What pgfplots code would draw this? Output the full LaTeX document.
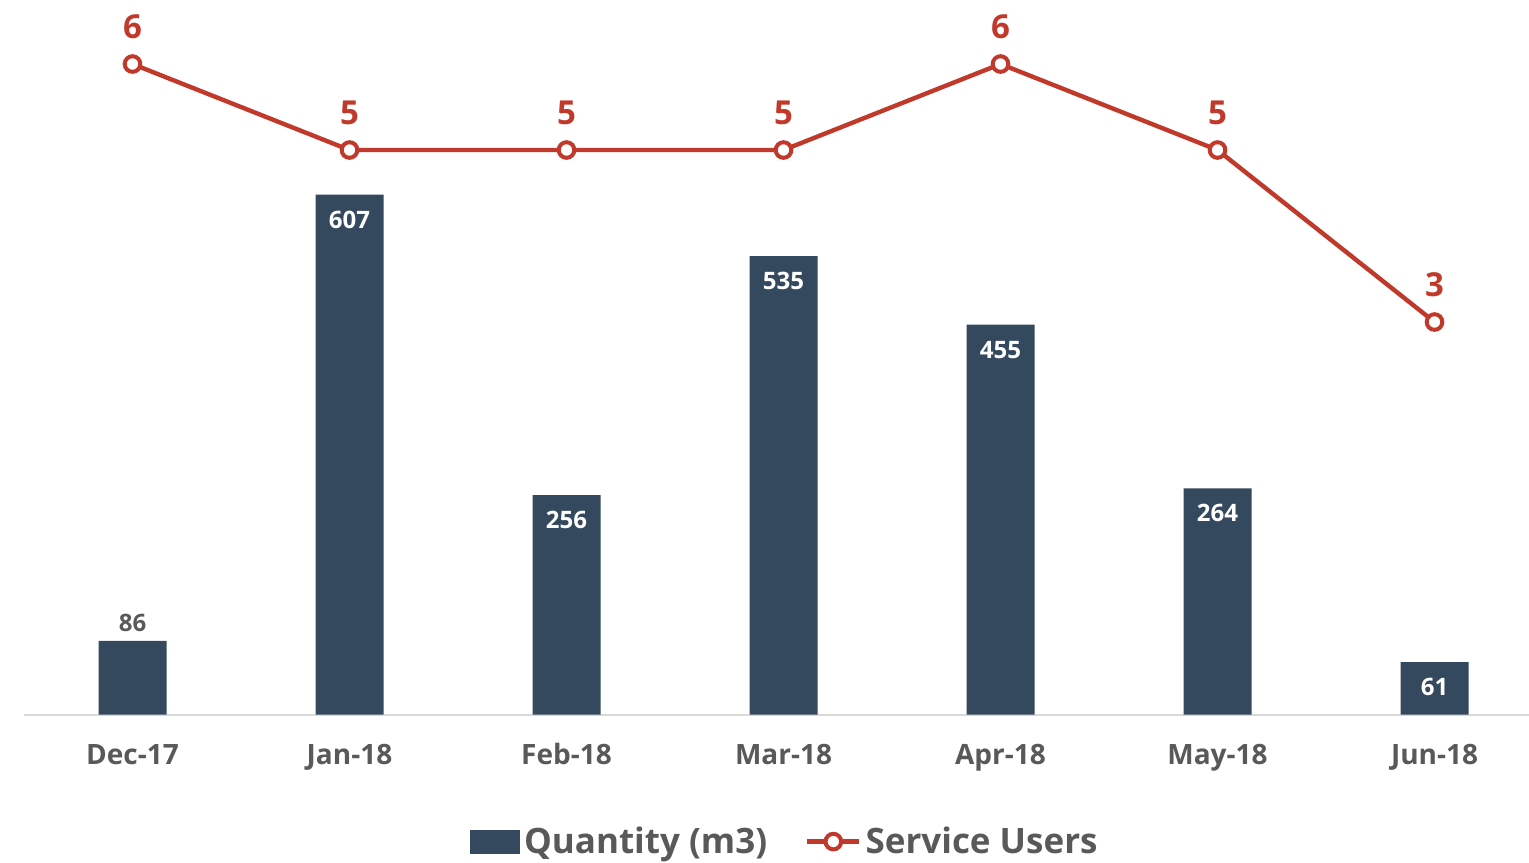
\documentclass[border=0pt]{standalone}
\usepackage{fontspec}
\setmainfont{Open Sans}
\usepackage{pgfplots}
\pgfplotsset{compat=1.18}
\definecolor{barc}{HTML}{34495E}
\definecolor{linec}{HTML}{C0392B}
\definecolor{txt}{HTML}{595959}
\definecolor{axc}{HTML}{D9D9D9}
\pgfplotsset{/pgf/number format/assume math mode=true,
  lineleg/.style={legend image code/.code={\draw[mark repeat=2,mark phase=2,##1] plot coordinates {(0pt,0pt) (13pt,0pt) (26pt,0pt)};}},
  barleg/.style={legend image code/.code={\fill[barc] (0pt,-5.75pt) rectangle (24.5pt,5.75pt);}}}
\begin{document}
\begin{tikzpicture}
\useasboundingbox (-12pt,-74pt) rectangle (752.5pt,357.25pt);
\begin{axis}[
  scale only axis, width=753pt, height=347.25pt,
  xmin=-0.5, xmax=6.44, ymin=0, ymax=810.7,
  clip=false,
  hide y axis,
  axis x line*=bottom,
  x axis line style={axc, line width=1pt, -},
  xtick={0,1,2,3,4,5,6},
  xticklabels={Dec-17,Jan-18,Feb-18,Mar-18,Apr-18,May-18,Jun-18},
  xtick style={draw=none},
  xticklabel style={anchor=base, yshift=-25pt, text=txt, font=\bfseries\fontsize{14}{16}\selectfont},
]
\addplot[ybar, bar width=34pt, fill=barc, draw=none] coordinates {(0,86) (1,607) (2,256) (3,535) (4,455) (5,264) (6,61)};
\addplot[draw=none, mark=none, nodes near coords, point meta=y,
  nodes near coords style={anchor=center, yshift=-12.5pt, text=white, font=\bfseries\fontsize{12}{14}\selectfont}]
  coordinates {(1,607) (2,256) (3,535) (4,455) (5,264) (6,61)};
\addplot[draw=none, mark=none, nodes near coords, point meta=y,
  nodes near coords style={anchor=center, yshift=9pt, text=txt, font=\bfseries\fontsize{12}{14}\selectfont}]
  coordinates {(0,86)};
\end{axis}
\begin{axis}[
  scale only axis, width=753pt, height=347.25pt,
  xmin=-0.5, xmax=6.44, ymin=-1.564, ymax=6.512,
  clip=false,
  axis lines=none,
  legend style={at={(rel axis cs:0.5059,-0.1830)}, anchor=center, legend columns=2, draw=none, fill=none,
    font=\bfseries\fontsize{17.5}{20}\selectfont, text=txt,
    nodes={inner sep=2pt},
    /tikz/every even column/.append style={column sep=17pt}},
]
\addlegendimage{barleg}
\addlegendentry{Quantity (m3)}
\addplot[linec, line width=2.2pt, mark=*, mark size=3.9pt,
  mark options={fill=white, draw=linec, line width=2pt},
  lineleg,
  nodes near coords, point meta=y,
  nodes near coords style={anchor=center, yshift=18.7pt, text=linec, font=\bfseries\fontsize{16.5}{18}\selectfont}]
  coordinates {(0,6) (1,5) (2,5) (3,5) (4,6) (5,5) (6,3)};
\addlegendentry{Service Users}
\end{axis}
\end{tikzpicture}
\end{document}
